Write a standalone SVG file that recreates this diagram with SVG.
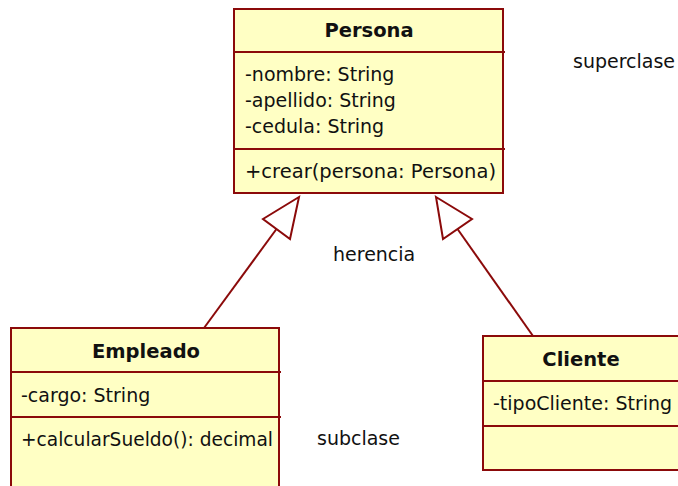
<svg xmlns="http://www.w3.org/2000/svg" width="678" height="486" viewBox="0 0 678 486">
  <style>
    .box { fill: #FFFFC4; stroke: #8B0A0A; stroke-width: 2; }
    .sep { stroke: #8B0A0A; stroke-width: 2; fill: none; }
    .edge { stroke: #8B0A0A; stroke-width: 2; fill: none; }
    .head { fill: #FFFFFF; stroke: #8B0A0A; stroke-width: 2; stroke-linejoin: miter; }
    text { font-family: "DejaVu Sans", Tahoma, sans-serif; font-size: 19px; fill: #111111; }
    .title { font-weight: bold; font-size: 19.5px; text-anchor: middle; }
  </style>
  <rect width="678" height="486" fill="#FFFFFF"/>

  <!-- generalization connectors -->
  <g id="connectors">
    <line class="edge" x1="204" y1="328" x2="276.5" y2="229"/>
    <polygon class="head" points="299,197 263,219 290,239"/>
    <line class="edge" x1="533" y1="336" x2="457.5" y2="229"/>
    <polygon class="head" points="436,197 472,219 443,239"/>
  </g>

  <g id="persona">
    <rect class="box" x="234" y="9" width="269" height="184"/>
    <line class="sep" x1="234" y1="52" x2="505" y2="52"/>
    <line class="sep" x1="234" y1="149" x2="505" y2="149"/>
    <text class="title" x="369" y="37">Persona</text>
    <text x="245" y="81">-nombre: String</text>
    <text x="245" y="107">-apellido: String</text>
    <text x="245" y="133">-cedula: String</text>
    <text x="245" y="178" textLength="251" lengthAdjust="spacingAndGlyphs">+crear(persona: Persona)</text>
  </g>

  <g id="empleado">
    <rect class="box" x="11" y="328" width="268" height="170"/>
    <line class="sep" x1="11" y1="372" x2="281" y2="372"/>
    <line class="sep" x1="11" y1="417" x2="281" y2="417"/>
    <text class="title" x="146" y="358">Empleado</text>
    <text x="21" y="402">-cargo: String</text>
    <text x="21" y="446" textLength="252" lengthAdjust="spacingAndGlyphs">+calcularSueldo(): decimal</text>
  </g>

  <g id="cliente">
    <rect class="box" x="483" y="336" width="210" height="134"/>
    <line class="sep" x1="483" y1="381" x2="693" y2="381"/>
    <line class="sep" x1="483" y1="426" x2="693" y2="426"/>
    <text class="title" x="581" y="366">Cliente</text>
    <text x="493" y="410">-tipoCliente: String</text>
  </g>

  <g id="labels">
    <text x="573" y="68">superclase</text>
    <text x="333" y="261">herencia</text>
    <text x="317" y="445">subclase</text>
  </g>
</svg>
